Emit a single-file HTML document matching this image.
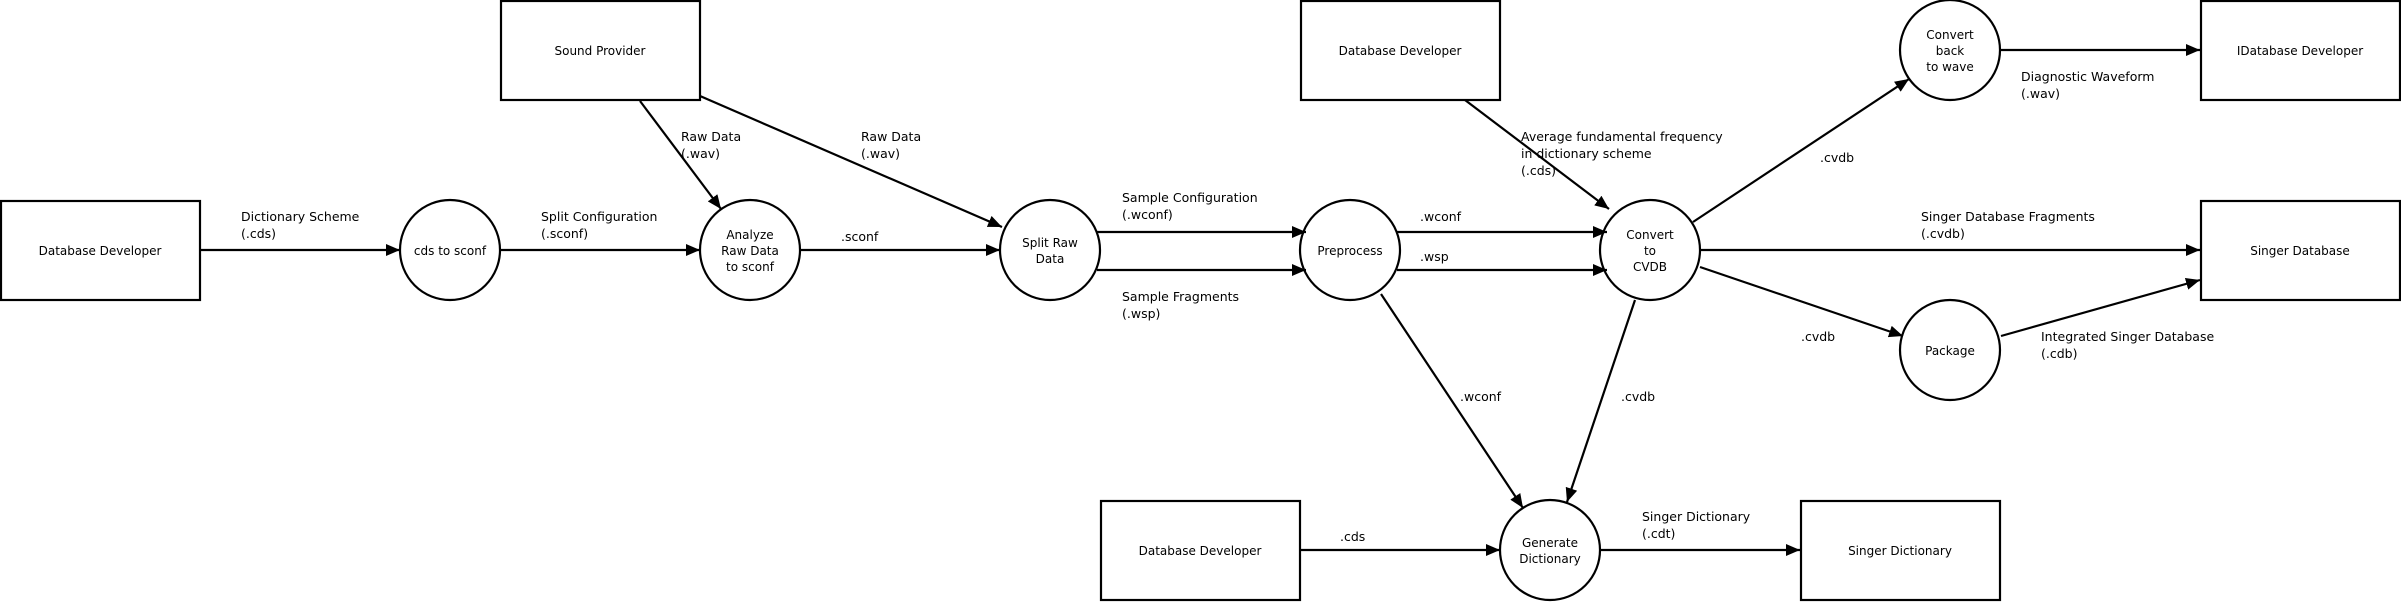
<!DOCTYPE html>
<html><head><meta charset="utf-8"><style>
html,body{margin:0;padding:0;background:#fff;}
svg{display:block;}
text{font-family:"DejaVu Sans","Liberation Sans",sans-serif;fill:#000;}
.n{font-size:12px;text-anchor:middle;dominant-baseline:central;}
.l{font-size:12.5px;}
</style></head><body>
<svg width="2401" height="602" viewBox="0 0 2401 602" xmlns="http://www.w3.org/2000/svg">
<defs>
<marker id="a" markerUnits="userSpaceOnUse" markerWidth="16" markerHeight="14" refX="14" refY="6" orient="auto">
<path d="M0,0 L14,6 L0,12 z" fill="#000"/>
</marker>
</defs>
<g fill="none" stroke="#000" stroke-width="2.2">
<rect x="1" y="201" width="199" height="99"/>
<rect x="501" y="1" width="199" height="99"/>
<rect x="1301" y="1" width="199" height="99"/>
<rect x="2201" y="1" width="199" height="99"/>
<rect x="2201" y="201" width="199" height="99"/>
<rect x="1101" y="501" width="199" height="99"/>
<rect x="1801" y="501" width="199" height="99"/>
<circle cx="450" cy="250" r="50"/>
<circle cx="750" cy="250" r="50"/>
<circle cx="1050" cy="250" r="50"/>
<circle cx="1350" cy="250" r="50"/>
<circle cx="1650" cy="250" r="50"/>
<circle cx="1950" cy="50" r="50"/>
<circle cx="1950" cy="350" r="50"/>
<circle cx="1550" cy="550" r="50"/>
</g>
<g stroke="#000" stroke-width="2.2" fill="none" marker-end="url(#a)">
<line x1="200" y1="250" x2="400" y2="250"/>
<line x1="500" y1="250" x2="700" y2="250"/>
<line x1="800" y1="250" x2="1000" y2="250"/>
<line x1="640" y1="101" x2="721" y2="209"/>
<line x1="700" y1="96" x2="1002" y2="227"/>
<line x1="1097" y1="232" x2="1306" y2="232"/>
<line x1="1097" y1="270" x2="1306" y2="270"/>
<line x1="1397" y1="232" x2="1607" y2="232"/>
<line x1="1397" y1="270" x2="1607" y2="270"/>
<line x1="1465" y1="100" x2="1609" y2="209"/>
<line x1="1693" y1="222" x2="1909" y2="79"/>
<line x1="1700" y1="250" x2="2200" y2="250"/>
<line x1="1700" y1="267" x2="1903" y2="336"/>
<line x1="2001" y1="336" x2="2200" y2="280"/>
<line x1="2000" y1="50" x2="2200" y2="50"/>
<line x1="1381" y1="294" x2="1523" y2="508"/>
<line x1="1635" y1="300" x2="1567" y2="502"/>
<line x1="1300" y1="550" x2="1500" y2="550"/>
<line x1="1600" y1="550" x2="1800" y2="550"/>
</g>
<text class="n" x="100" y="251">Database Developer</text>
<text class="n" x="600" y="51">Sound Provider</text>
<text class="n" x="1400" y="51">Database Developer</text>
<text class="n" x="2300" y="51">IDatabase Developer</text>
<text class="n" x="2300" y="251">Singer Database</text>
<text class="n" x="1200" y="551">Database Developer</text>
<text class="n" x="1900" y="551">Singer Dictionary</text>
<text class="n" x="450" y="251">cds to sconf</text>
<text class="n" x="750" y="235">Analyze</text>
<text class="n" x="750" y="251">Raw Data</text>
<text class="n" x="750" y="267">to sconf</text>
<text class="n" x="1050" y="243">Split Raw</text>
<text class="n" x="1050" y="259">Data</text>
<text class="n" x="1350" y="251">Preprocess</text>
<text class="n" x="1650" y="235">Convert</text>
<text class="n" x="1650" y="251">to</text>
<text class="n" x="1650" y="267">CVDB</text>
<text class="n" x="1950" y="35">Convert</text>
<text class="n" x="1950" y="51">back</text>
<text class="n" x="1950" y="67">to wave</text>
<text class="n" x="1950" y="351">Package</text>
<text class="n" x="1550" y="543">Generate</text>
<text class="n" x="1550" y="559">Dictionary</text>
<g class="l">
<text class="l" x="241" y="221">Dictionary Scheme</text>
<text class="l" x="241" y="238">(.cds)</text>
<text class="l" x="541" y="221">Split Configuration</text>
<text class="l" x="541" y="238">(.sconf)</text>
<text class="l" x="681" y="141">Raw Data</text>
<text class="l" x="681" y="158">(.wav)</text>
<text class="l" x="861" y="141">Raw Data</text>
<text class="l" x="861" y="158">(.wav)</text>
<text class="l" x="841" y="241">.sconf</text>
<text class="l" x="1122" y="202">Sample Configuration</text>
<text class="l" x="1122" y="219">(.wconf)</text>
<text class="l" x="1122" y="301">Sample Fragments</text>
<text class="l" x="1122" y="318">(.wsp)</text>
<text class="l" x="1420" y="221">.wconf</text>
<text class="l" x="1420" y="261">.wsp</text>
<text class="l" x="1521" y="141">Average fundamental frequency</text>
<text class="l" x="1521" y="158">in dictionary scheme</text>
<text class="l" x="1521" y="175">(.cds)</text>
<text class="l" x="1820" y="162">.cvdb</text>
<text class="l" x="2021" y="81">Diagnostic Waveform</text>
<text class="l" x="2021" y="98">(.wav)</text>
<text class="l" x="1921" y="221">Singer Database Fragments</text>
<text class="l" x="1921" y="238">(.cvdb)</text>
<text class="l" x="1801" y="341">.cvdb</text>
<text class="l" x="2041" y="341">Integrated Singer Database</text>
<text class="l" x="2041" y="358">(.cdb)</text>
<text class="l" x="1460" y="401">.wconf</text>
<text class="l" x="1621" y="401">.cvdb</text>
<text class="l" x="1642" y="521">Singer Dictionary</text>
<text class="l" x="1642" y="538">(.cdt)</text>
<text class="l" x="1340" y="541">.cds</text>
</g>
</svg>
</body></html>
